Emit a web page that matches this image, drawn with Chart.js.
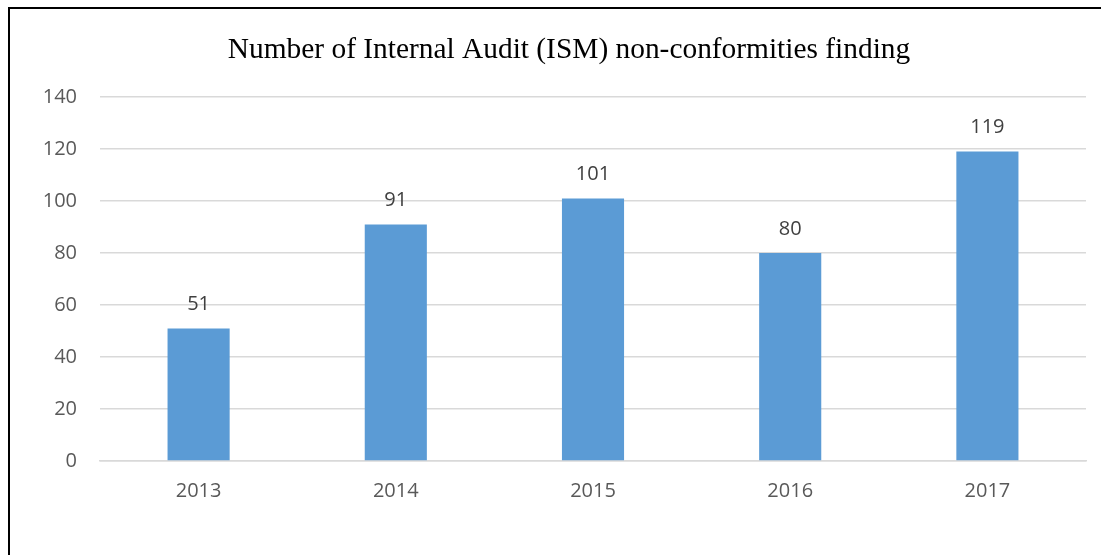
<!DOCTYPE html>
<html>
<head>
<meta charset="utf-8">
<script src="https://cdn.jsdelivr.net/npm/chart.js@4"></script>
<style>
  html, body { margin: 0; padding: 0; background: #fff; }
  #wrap { position: absolute; left: 0; top: 0; width: 1101px; height: 555px; }
</style>
</head>
<body>
<div id="wrap"><canvas id="myChart" width="1101" height="555"></canvas></div>
<script>
// Audit findings per year
const years = ['2013', '2014', '2015', '2016', '2017'];
const findings = [51, 91, 101, 80, 119];
const yTicks = [0, 20, 40, 60, 80, 100, 120, 140];

const titleText = 'Number of Internal Audit (ISM) non-conformities finding';
const tickFont = { family: "'Open Sans', sans-serif", size: 20 };

// frame lines on the left and top edges plus the heading
const framePlugin = {
  id: 'frame',
  afterDraw(chart) {
    const c = chart.ctx;
    c.save();
    c.fillStyle = '#000';
    c.fillRect(8, 7, 1093, 2);
    c.fillRect(8, 7, 2, 548);
    c.font = "29.4px 'Liberation Serif', 'Times New Roman', serif";
    c.textAlign = 'center';
    c.textBaseline = 'middle';
    c.fillStyle = '#000';
    c.fillText(titleText, 569, 50);
    c.restore();
  }
};

// value printed above each bar
const valueLabels = {
  id: 'valueLabels',
  afterDatasetsDraw(chart) {
    const c = chart.ctx;
    const meta = chart.getDatasetMeta(0);
    c.save();
    c.font = "20px 'Open Sans', sans-serif";
    c.fillStyle = '#404040';
    c.textAlign = 'center';
    c.textBaseline = 'middle';
    meta.data.forEach((bar, i) => {
      c.fillText(String(findings[i]), bar.x, bar.y - 24);
    });
    c.restore();
  }
};

const ctx = document.getElementById('myChart').getContext('2d');
const myChart = new Chart(ctx, {
  type: 'bar',
  data: {
    labels: years,
    datasets: [{
      data: findings,
      backgroundColor: '#5B9BD5',
      borderWidth: 0,
      categoryPercentage: 1,
      barPercentage: 0.315
    }]
  },
  options: {
    responsive: false,
    animation: false,
    layout: { padding: { left: 0, right: 15, top: 97, bottom: 0 } },
    plugins: {
      legend: { display: false },
      tooltip: { enabled: false },
      title: { display: false }
    },
    scales: {
      x: {
        grid: { display: false, drawTicks: false },
        border: { display: true, color: '#D9D9D9', width: 1.5 },
        ticks: { color: '#595959', font: tickFont, padding: 18 },
        afterFit(s) { s.height = 94; }
      },
      y: {
        min: 0,
        max: 140,
        afterBuildTicks(s) { s.ticks = yTicks.map(v => ({ value: v })); },
        grid: { color: '#D9D9D9', lineWidth: 1.5, drawTicks: false },
        border: { display: false },
        ticks: { color: '#595959', font: tickFont, padding: 23 },
        afterFit(s) { s.width = 100; }
      }
    }
  },
  plugins: [framePlugin, valueLabels]
});
</script>
</body>
</html>
